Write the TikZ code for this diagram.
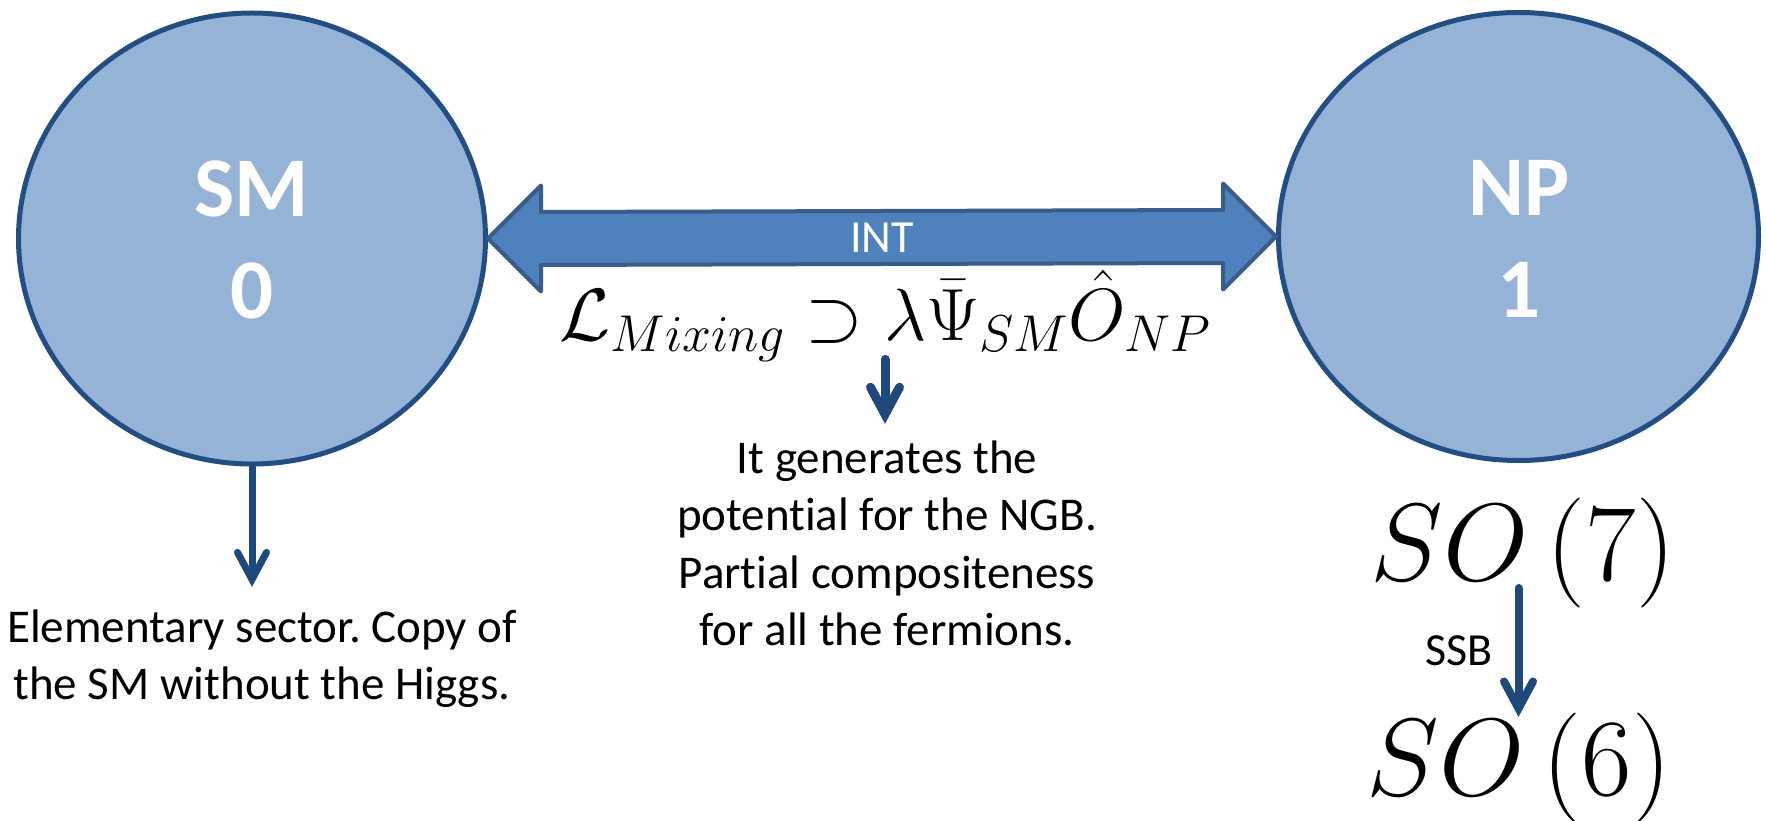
\RequirePackage{fix-cm}
\documentclass[tikz,border=0pt]{standalone}
\usepackage[no-math]{fontspec}
\newfontfamily\calibri[Ligatures=NoCommon]{Carlito}
\usetikzlibrary{arrows.meta,calc,shapes.geometric}
\frenchspacing

\definecolor{ringfill}{HTML}{95B3D7}
\definecolor{ringline}{HTML}{224E84}
\definecolor{bandfill}{HTML}{4F81BD}
\definecolor{bandline}{HTML}{385D8A}
\definecolor{pointercol}{HTML}{1F497D}

\tikzset{
  sector/.style={ellipse, draw=ringline, fill=ringfill, line width=5pt, inner sep=0pt},
  sectorname/.style={anchor=base, inner sep=0pt, text=white,
    font=\calibri\bfseries\fontsize{85}{102}\selectfont},
  note/.style={anchor=base, inner sep=0pt, font=\calibri\fontsize{47}{57.5}\selectfont},
  bigmath/.style={anchor=base, inner sep=0pt, font=\fontsize{110}{120}\selectfont},
  pointer/.style={draw=pointercol, line cap=round,
    -{Straight Barb[length=27pt, width=29pt, line cap=round, line join=miter]}}
}

\begin{document}
\begin{tikzpicture}[x=1pt, y=-1pt]
  \useasboundingbox (0,0) rectangle (1766,821);
  \fill[white] (0,0) rectangle (1766,821);

  % the two sectors
  \node[sector, minimum width=467pt, minimum height=451pt] (sm) at (252,238.5) {};
  \node[sector, minimum width=480pt, minimum height=448pt] (np) at (1518.5,236.5) {};
  \node[sectorname] (smname) at (252,216) {\begin{tabular}[t]{@{}c@{}}SM\\0\end{tabular}};
  \node[sectorname] (npname) at (1519,215) {\begin{tabular}[t]{@{}c@{}}NP\\1\end{tabular}};

  % double-headed interaction band between the sectors
  \path[fill=bandfill, draw=bandline, line width=4pt, line join=round]
    (sm.east) -- ++(53,-53) -- ++(0,26.5)
    -- ($(np.west)+(-53,-26.5)$) -- ++(0,-26.5)
    -- (np.west) -- ++(-53,53) -- ++(0,-26.5)
    -- ($(sm.east)+(53,26.5)$) -- ++(0,26.5) -- cycle;
  \node[inner sep=0pt, text=white, font=\calibri\fontsize{46}{55}\selectfont]
    (int) at ($(sm.east)!0.5!(np.west)$) {INT};

  % mixing Lagrangian and its consequence
  \node[anchor=base, inner sep=0pt, font=\fontsize{74}{80}\selectfont] (mix) at (885,340)
    {$\mathcal{L}_{Mixing} \supset \lambda\bar{\Psi}_{SM}\hat{O}_{NP}$};
  \node[note] (cnote) at (887,473) {\begin{tabular}[t]{@{}c@{}}It generates the\\
    potential for the NGB.\\ Partial compositeness\\ for all the fermions.\end{tabular}};
  \draw[pointer, line width=9pt, shorten <=-2pt, shorten >=8.75pt]
    (mix.south) -- (mix.south |- cnote.north);

  % elementary sector description
  \node[note] (smnote) at (262,642) {\begin{tabular}[t]{@{}c@{}}Elementary sector. Copy of\\
    the SM without the Higgs.\end{tabular}};
  \draw[pointer, line width=7pt, shorten >=14.75pt]
    (sm.south) -- (sm.south |- smnote.north);

  % symmetry breaking pattern of the composite sector
  \node[bigmath] (so7) at (1523,580) {$SO\left(7\right)$};
  \node[bigmath] (so6) at (1519,795) {$SO\left(6\right)$};
  \node[anchor=base, inner sep=0pt, font=\calibri\fontsize{46}{55}\selectfont]
    (ssb) at (1459,665) {SSB};
  \draw[pointer, line width=8pt, shorten >=-4.5pt]
    ([yshift=-8pt]so7.base -| np.center) -- (so6.north -| np.center);
\end{tikzpicture}
\end{document}
